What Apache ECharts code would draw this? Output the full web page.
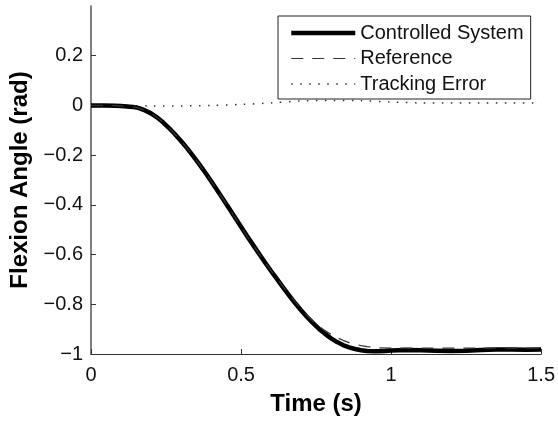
<!DOCTYPE html>
<html>
<head>
<meta charset="utf-8">
<title>Flexion Angle</title>
<script src="https://cdn.jsdelivr.net/npm/echarts@6/dist/echarts.min.js"></script>
<style>
  html, body { margin: 0; padding: 0; background: #fff; }
  #chart { width: 558px; height: 421px; }
</style>
</head>
<body>
<div id="chart"></div>
<script>
// Time samples (s) and flexion angle (rad) of the controlled joint
const sysTime = [0, 0.04, 0.08, 0.10, 0.12, 0.14, 0.16, 0.18, 0.20, 0.22, 0.24, 0.26, 0.28, 0.30, 0.32, 0.34, 0.36, 0.38, 0.40, 0.42, 0.44, 0.46, 0.48, 0.50, 0.52, 0.54, 0.56, 0.58, 0.60, 0.62, 0.64, 0.66, 0.68, 0.70, 0.72, 0.74, 0.76, 0.78, 0.80, 0.82, 0.84, 0.86, 0.88, 0.90, 0.92, 0.94, 0.96, 0.98, 1.00, 1.05, 1.10, 1.15, 1.20, 1.25, 1.30, 1.35, 1.40, 1.45, 1.50];
const sysAngle = [0, 0, -0.001, -0.002, -0.004, -0.006, -0.011, -0.02, -0.032, -0.048, -0.068, -0.091, -0.116, -0.143, -0.172, -0.203, -0.235, -0.269, -0.304, -0.34, -0.377, -0.414, -0.451, -0.488, -0.525, -0.561, -0.597, -0.632, -0.666, -0.699, -0.732, -0.764, -0.795, -0.824, -0.851, -0.876, -0.899, -0.919, -0.937, -0.952, -0.964, -0.973, -0.98, -0.985, -0.988, -0.989, -0.989, -0.988, -0.986, -0.984, -0.985, -0.987, -0.988, -0.987, -0.984, -0.982, -0.982, -0.983, -0.982];

// Reference trajectory
const refTime = [0, 0.04, 0.08, 0.10, 0.12, 0.14, 0.16, 0.18, 0.20, 0.22, 0.24, 0.26, 0.28, 0.30, 0.32, 0.34, 0.36, 0.38, 0.40, 0.42, 0.44, 0.46, 0.48, 0.50, 0.52, 0.54, 0.56, 0.58, 0.60, 0.62, 0.64, 0.66, 0.68, 0.70, 0.72, 0.74, 0.76, 0.78, 0.80, 0.82, 0.84, 0.86, 0.88, 0.90, 0.92, 0.94, 0.96, 1.00, 1.10, 1.20, 1.30, 1.40, 1.50];
const refAngle = [0, 0, -0.001, -0.002, -0.004, -0.006, -0.011, -0.02, -0.032, -0.048, -0.068, -0.091, -0.116, -0.143, -0.172, -0.203, -0.235, -0.269, -0.304, -0.34, -0.377, -0.414, -0.451, -0.488, -0.525, -0.561, -0.597, -0.632, -0.665, -0.697, -0.729, -0.76, -0.79, -0.818, -0.845, -0.869, -0.889, -0.906, -0.921, -0.934, -0.945, -0.954, -0.961, -0.966, -0.97, -0.973, -0.975, -0.976, -0.976, -0.976, -0.976, -0.976, -0.976];

// Tracking error between reference and controlled joint
const errTime = [0, 0.1, 0.2, 0.3, 0.4, 0.5, 0.6, 0.7, 0.8, 0.9, 1.0, 1.1, 1.2, 1.3, 1.4, 1.5];
const errValue = [0, 0, -0.002, -0.002, 0, 0.004, 0.01, 0.018, 0.02, 0.019, 0.014, 0.01, 0.01, 0.01, 0.01, 0.01];

// Axis ticks
const xTicks = [0, 0.5, 1, 1.5];
const yTicks = [-1, -0.8, -0.6, -0.4, -0.2, 0, 0.2];

const zip = (xs, ys) => xs.map((x, i) => [x, ys[i]]);
const fmt = v => {
  const s = String(Math.round(v * 10) / 10);
  return s.replace('-', '\u2212');
};

const font = '"Liberation Sans", Arial, Helvetica, sans-serif';
const solidStyle = { color: '#000', width: 4.5 };
const dashStyle = { color: '#333', width: 1.2, type: [12, 9] };
const dotStyle = { color: '#333', width: 1.5, type: [1.5, 7.5] };

const chart = echarts.init(document.getElementById('chart'), null, { renderer: 'canvas' });

chart.setOption({
  animation: false,
  backgroundColor: '#fff',
  grid: { left: 91, right: 15, top: 6, bottom: 63, containLabel: false },
  xAxis: {
    type: 'value',
    min: 0, max: 1.5, interval: 0.5,
    name: 'Time (s)',
    nameLocation: 'middle',
    nameGap: 38,
    nameTextStyle: { fontFamily: font, fontSize: 24, fontWeight: 'bold', color: '#000', verticalAlign: 'top' },
    axisLine: { show: true, onZero: false, lineStyle: { color: '#333', width: 1.2 } },
    axisTick: { show: true, inside: true, length: 5, lineStyle: { color: '#333', width: 1 }, customValues: xTicks },
    axisLabel: { fontFamily: font, fontSize: 20, color: '#111', margin: 11, customValues: xTicks, formatter: fmt },
    splitLine: { show: false }
  },
  yAxis: {
    type: 'value',
    min: -1, max: 0.4, interval: 0.2,
    name: 'Flexion Angle (rad)',
    nameLocation: 'middle',
    nameGap: 52,
    nameRotate: 90,
    nameTextStyle: { fontFamily: font, fontSize: 24, fontWeight: 'bold', color: '#000' },
    axisLine: { show: true, onZero: false, lineStyle: { color: '#555', width: 1.5 } },
    axisTick: { show: true, inside: true, length: 5, lineStyle: { color: '#333', width: 1 }, customValues: yTicks },
    axisLabel: { fontFamily: font, fontSize: 20, color: '#111', margin: 8, customValues: yTicks, formatter: fmt },
    splitLine: { show: false }
  },
  legend: {
    orient: 'vertical',
    left: 278, top: 16,
    padding: [7, 7, 5, 11],
    itemGap: 5.5,
    itemWidth: 64,
    itemHeight: 14,
    backgroundColor: '#fff',
    borderColor: '#222',
    borderWidth: 1,
    borderRadius: 0,
    itemStyle: { opacity: 0 },
    textStyle: { fontFamily: font, fontSize: 20, color: '#111', lineHeight: 20 },
    data: [
      { name: 'Controlled System', lineStyle: solidStyle },
      { name: 'Reference', lineStyle: dashStyle },
      { name: 'Tracking Error', lineStyle: dotStyle }
    ]
  },
  series: [
    {
      name: 'Tracking Error',
      type: 'line',
      data: zip(errTime, errValue),
      symbol: 'none',
      smooth: 0.3,
      color: '#333',
      lineStyle: dotStyle,
      z: 1
    },
    {
      name: 'Controlled System',
      type: 'line',
      data: zip(sysTime, sysAngle),
      symbol: 'none',
      color: '#000',
      lineStyle: Object.assign({ join: 'round' }, solidStyle),
      z: 2
    },
    {
      name: 'Reference',
      type: 'line',
      data: zip(refTime, refAngle),
      symbol: 'none',
      color: '#333',
      lineStyle: dashStyle,
      z: 3
    }
  ]
});
</script>
</body>
</html>
